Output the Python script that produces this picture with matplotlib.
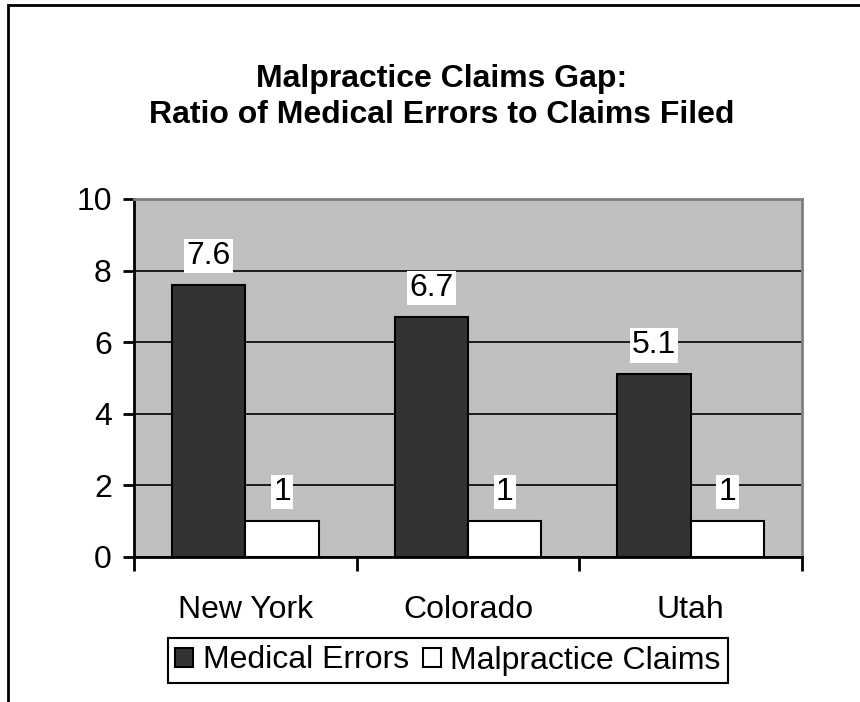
import matplotlib
matplotlib.use("Agg")
import matplotlib.pyplot as plt
import numpy as np
from matplotlib.patches import Rectangle

categories = ["New York", "Colorado", "Utah"]
medical_errors = [7.6, 6.7, 5.1]
malpractice_claims = [1, 1, 1]
series_names = ["Medical Errors", "Malpractice Claims"]
yticks = [0, 2, 4, 6, 8, 10]

plt.rcParams['font.family'] = ['Liberation Sans', 'DejaVu Sans']
FS = 23

fig = plt.figure(figsize=(8.6, 7.02), dpi=100)
# border (the original chart is cropped at right and bottom)
fig.patches.append(Rectangle((8/860, -0.5), 2.0, 0.5 + 1 - 5/702, transform=fig.transFigure,
                             fill=False, edgecolor='black', linewidth=2.0, zorder=0))

ax = fig.add_axes([134/860, 1 - 557/702, 668/860, 358/702])
ax.set_facecolor('#C0C0C0')

x = np.arange(len(categories))
w = 0.33
b1 = ax.bar(x - w/2, medical_errors, w, color='#333333', edgecolor='black', linewidth=1.5, zorder=3,
            label=series_names[0])
b2 = ax.bar(x + w/2, malpractice_claims, w, color='white', edgecolor='black', linewidth=1.5, zorder=3,
            label=series_names[1])

for bars, vals in ((b1, medical_errors), (b2, malpractice_claims)):
    for r, v in zip(bars, vals):
        ax.annotate(f"{v:g}", (r.get_x() + r.get_width()/2, v), xytext=(0, 14),
                    textcoords='offset pixels', ha='center', va='bottom', fontsize=FS,
                    bbox=dict(facecolor='white', edgecolor='none', pad=1.5), zorder=5)

ax.set_xlim(-0.5, len(categories) - 0.5)
ax.set_ylim(0, 10)
ax.set_yticks(yticks)
ax.set_yticklabels([str(t) for t in yticks], fontsize=FS)
ax.yaxis.grid(True, color='black', linewidth=1.2, zorder=1)
ax.set_axisbelow(True)

ax.set_xticks(x)
ax.set_xticklabels(categories, fontsize=FS)
ax.set_xticks(np.arange(len(categories) + 1) - 0.5, minor=True)
ax.tick_params(axis='x', which='major', length=0, pad=27)
ax.tick_params(axis='x', which='minor', length=10, width=2, direction='out')
ax.tick_params(axis='y', length=8, width=2, direction='out', pad=8)

for s in ('left', 'bottom'):
    ax.spines[s].set_color('black')
    ax.spines[s].set_linewidth(2)
for s in ('top', 'right'):
    ax.spines[s].set_color('#808080')
    ax.spines[s].set_linewidth(2)

fig.text(442/860, 1 - 97/702, "Malpractice Claims Gap:\nRatio of Medical Errors to Claims Filed",
         ha='center', va='center', fontsize=FS, fontweight='bold', linespacing=1.25)

leg = fig.legend(handles=[b1, b2], labels=series_names, loc='center',
                 bbox_to_anchor=(448/860, 1 - 660.5/702), ncol=2, fontsize=FS,
                 frameon=True, fancybox=False, edgecolor='black', framealpha=1,
                 handlelength=0.55, handleheight=0.55, handletextpad=0.3,
                 columnspacing=0.45, borderpad=0.22, borderaxespad=0)
leg.get_frame().set_linewidth(1.5)

fig.savefig("out.png", dpi=100)
